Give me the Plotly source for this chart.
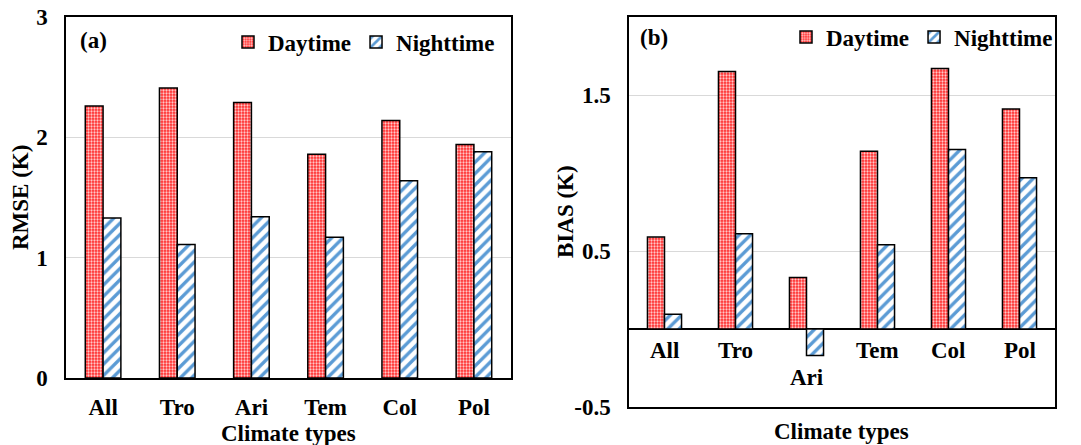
import plotly.graph_objects as go

categories = ["All", "Tro", "Ari", "Tem", "Col", "Pol"]
rmse_day = [2.26, 2.41, 2.29, 1.86, 2.14, 1.94]
rmse_night = [1.33, 1.11, 1.34, 1.17, 1.64, 1.88]
bias_day = [0.59, 1.65, 0.33, 1.14, 1.67, 1.41]
bias_night = [0.095, 0.61, -0.17, 0.54, 1.15, 0.97]
bias_tickvals = [-0.5, 0.5, 1.5]
bias_ticktext = ["-0.5", "0.5", "1.5"]

W, H = 1081, 445
FONT = "Liberation Serif"
FS = 23

def px_x(p):
    return p / W

def px_y(p):
    return 1 - p / H

day_marker = dict(color="#ff2b2b", line=dict(color="black", width=1.5),
                  pattern=dict(shape=".", fgcolor="#ffc8c8", fgopacity=1, size=3,
                               solidity=0.45, fillmode="overlay"))
night_marker = dict(color="white", line=dict(color="black", width=1.5),
                    pattern=dict(shape="/", fgcolor="#5b9bd5", fgopacity=1, size=8,
                                 solidity=0.42, fillmode="overlay"))

fig = go.Figure()
fig.add_trace(go.Bar(x=categories, y=rmse_day, name="Daytime", marker=day_marker,
                     xaxis="x", yaxis="y", legend="legend"))
fig.add_trace(go.Bar(x=categories, y=rmse_night, name="Nighttime", marker=night_marker,
                     xaxis="x", yaxis="y", legend="legend"))
fig.add_trace(go.Bar(x=categories, y=bias_day, name="Daytime", marker=day_marker,
                     xaxis="x2", yaxis="y2", legend="legend2"))
fig.add_trace(go.Bar(x=categories, y=bias_night, name="Nighttime", marker=night_marker,
                     xaxis="x2", yaxis="y2", legend="legend2"))

font = dict(family=FONT, size=FS, color="black", weight="bold")

axis_common = dict(showline=True, linecolor="black", linewidth=1.5, mirror=True,
                   tickfont=font, automargin=False)

fig.update_layout(
    width=W, height=H,
    margin=dict(l=0, r=0, t=0, b=0, autoexpand=False),
    paper_bgcolor="white", plot_bgcolor="white",
    font=font,
    barmode="group", bargap=0.52, bargroupgap=0,
    xaxis=dict(domain=[px_x(66), px_x(511)], anchor="y", showgrid=False,
               ticks="outside", ticklen=8, tickcolor="rgba(0,0,0,0)", **axis_common),
    yaxis=dict(domain=[px_y(378), px_y(17)], anchor="x", range=[0, 3], dtick=1,
               showgrid=True, gridcolor="#d9d9d9", gridwidth=1, zeroline=False,
               ticks="outside", ticklen=12, tickcolor="rgba(0,0,0,0)", **axis_common),
    xaxis2=dict(domain=[px_x(629), px_x(1055)], anchor="y2", showgrid=False,
                showticklabels=False, **axis_common),
    yaxis2=dict(domain=[px_y(407), px_y(17)], anchor="x2", range=[-0.5, 2.0],
                tickmode="array", tickvals=bias_tickvals, ticktext=bias_ticktext,
                showgrid=True, gridcolor="#d9d9d9", gridwidth=1,
                zeroline=True, zerolinecolor="black", zerolinewidth=1.5,
                ticks="outside", ticklen=12, tickcolor="rgba(0,0,0,0)", **axis_common),
    legend=dict(orientation="h", x=px_x(500), xanchor="right", y=px_y(42), yanchor="middle",
                font=font, bgcolor="rgba(0,0,0,0)", itemwidth=30, tracegroupgap=0),
    legend2=dict(orientation="h", x=px_x(1058), xanchor="right", y=px_y(37), yanchor="middle",
                 font=font, bgcolor="rgba(0,0,0,0)", itemwidth=30, tracegroupgap=0),
)

annotations = [
    dict(text="(a)", xref="paper", yref="paper", x=px_x(78), y=px_y(41), xanchor="left",
         yanchor="middle", showarrow=False, font=font),
    dict(text="(b)", xref="paper", yref="paper", x=px_x(638), y=px_y(37), xanchor="left",
         yanchor="middle", showarrow=False, font=font),
    dict(text="Climate types", xref="paper", yref="paper", x=px_x(288), y=px_y(433),
         xanchor="center", yanchor="middle", showarrow=False, font=font),
    dict(text="Climate types", xref="paper", yref="paper", x=px_x(841), y=px_y(431),
         xanchor="center", yanchor="middle", showarrow=False, font=font),
    dict(text="RMSE (K)", xref="paper", yref="paper", x=px_x(20), y=px_y(198),
         xanchor="center", yanchor="middle", textangle=-90, showarrow=False, font=font),
    dict(text="BIAS (K)", xref="paper", yref="paper", x=px_x(565), y=px_y(212),
         xanchor="center", yanchor="middle", textangle=-90, showarrow=False, font=font),
]
for c, n in zip(categories, bias_night):
    annotations.append(dict(text=c, xref="x2", yref="y2", x=c, y=min(0, n),
                            xanchor="center", yanchor="top", yshift=-7,
                            showarrow=False, font=font))
fig.update_layout(annotations=annotations)

fig.write_html("out.html", config={"displayModeBar": False},
               post_script="document.body.style.margin='0';document.body.style.overflow='hidden';")
